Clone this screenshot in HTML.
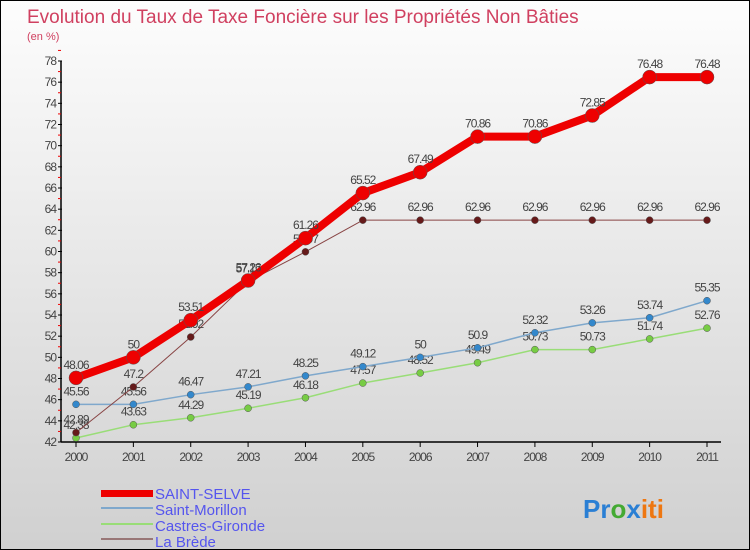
<!DOCTYPE html>
<html><head><meta charset="utf-8"><style>
body{margin:0}
#c{position:relative;width:748px;height:548px;border:1px solid #000;background:linear-gradient(#fdfdfd,#d0d0d0);font-family:"Liberation Sans",sans-serif;overflow:hidden}
</style></head><body>
<div id="c">
<svg id="s" width="748" height="548" xmlns="http://www.w3.org/2000/svg">
<text x="26" y="22" font-size="19" fill="#d04060">Evolution du Taux de Taxe Foncière sur les Propriétés Non Bâties</text>
<text x="26" y="39" font-size="11" fill="#d04060">(en %)</text>
<g id="axes"></g><g id="series"></g>
<g>
<rect x="100" y="489" width="52" height="7" fill="#e00"/><text x="154" y="498" font-size="15" fill="#5555ee">SAINT-SELVE</text>
<line x1="100" y1="507" x2="152" y2="507" stroke="#7fa8cc" stroke-width="2"/><text x="154" y="514" font-size="15" fill="#5555ee">Saint-Morillon</text>
<line x1="100" y1="523" x2="152" y2="523" stroke="#99dd77" stroke-width="2"/><text x="154" y="530" font-size="15" fill="#5555ee">Castres-Gironde</text>
<line x1="100" y1="538" x2="152" y2="538" stroke="#997777" stroke-width="2"/><text x="154" y="546" font-size="15" fill="#5555ee">La Brède</text>
</g>
<text x="582" y="517" font-size="26" font-weight="bold"><tspan fill="#2a7fd4">Pr</tspan><tspan fill="#44aa33">o</tspan><tspan fill="#2a7fd4">x</tspan><tspan fill="#ee7711">iti</tspan></text>
</svg></div>
<script>
const years=["2000","2001","2002","2003","2004","2005","2006","2007","2008","2009","2010","2011"];
const yTicks=[42,44,46,48,50,52,54,56,58,60,62,64,66,68,70,72,74,76,78];
const selve=[48.06,50,53.51,57.26,61.26,65.52,67.49,70.86,70.86,72.85,76.48,76.48];
const morillon=[45.56,45.56,46.47,47.21,48.25,49.12,50,50.9,52.32,53.26,53.74,55.35];
const castres=[42.38,43.63,44.29,45.19,46.18,47.57,48.52,49.49,50.73,50.73,51.74,52.76];
const brede=[42.89,47.2,51.92,57.17,59.97,62.96,62.96,62.96,62.96,62.96,62.96,62.96];
const NS="http://www.w3.org/2000/svg";
const X=i=>75+i*(631/11);
const Y=v=>441-(v-42)*(381/36);
function el(t,a,p){const e=document.createElementNS(NS,t);for(const k in a)e.setAttribute(k,a[k]);p.appendChild(e);return e;}
const ax=document.getElementById('axes');
const yl=el('line',{x1:60,y1:60,x2:60,y2:441,stroke:'#000','stroke-width':1.5},ax);


const xl=el('line',{x1:60,y1:441,x2:720,y2:441,stroke:'#000','stroke-width':1.5},ax);


yTicks.forEach(v=>{
 el('line',{x1:57,y1:Y(v),x2:61,y2:Y(v),stroke:'#000'},ax);
 el('line',{x1:57,y1:Y(v+1),x2:60,y2:Y(v+1),stroke:'#e00'},ax);
 const t=el('text',{x:55,y:Y(v)+4,'font-size':12,fill:'#444','text-anchor':'end','letter-spacing':'-1'},ax);
 t.textContent=v;
 
 
});
years.forEach((y,i)=>{
 el('line',{x1:X(i),y1:441,x2:X(i),y2:446,stroke:'#000'},ax);
 const t=el('text',{x:X(i),y:460,'font-size':12,fill:'#444','text-anchor':'middle','letter-spacing':'-1'},ax);
 t.textContent=y;
 
 
});
const sg=document.getElementById('series');
function draw(data,color,w,r,dot,name){
 const g=el('g',{},sg);
 
 
 el('polyline',{points:data.map((v,i)=>X(i)+','+Y(v)).join(' '),fill:'none',stroke:color,'stroke-width':w,'stroke-linejoin':'round'},g);
 data.forEach((v,i)=>{
  const c=el('circle',{cx:X(i),cy:Y(v),r:r,fill:dot,stroke:'#555','stroke-width':0.5},g);
  
  
  const t=el('text',{x:X(i),y:Y(v)-9,'font-size':12,fill:'#444','text-anchor':'middle','letter-spacing':'-1'},g);
  t.textContent=v;
 });
}
draw(castres,'#99dd77',1.5,3.5,'#77cc44','castres-gironde-series');
draw(morillon,'#7fa8cc',1.5,3.5,'#3388cc','saint-morillon-series');
draw(brede,'#884444',1,3.5,'#661a1a','la-brede-series');
draw(selve,'#ee0000',8,7,'#ee0000','saint-selve-series');
</script>
</body></html>
